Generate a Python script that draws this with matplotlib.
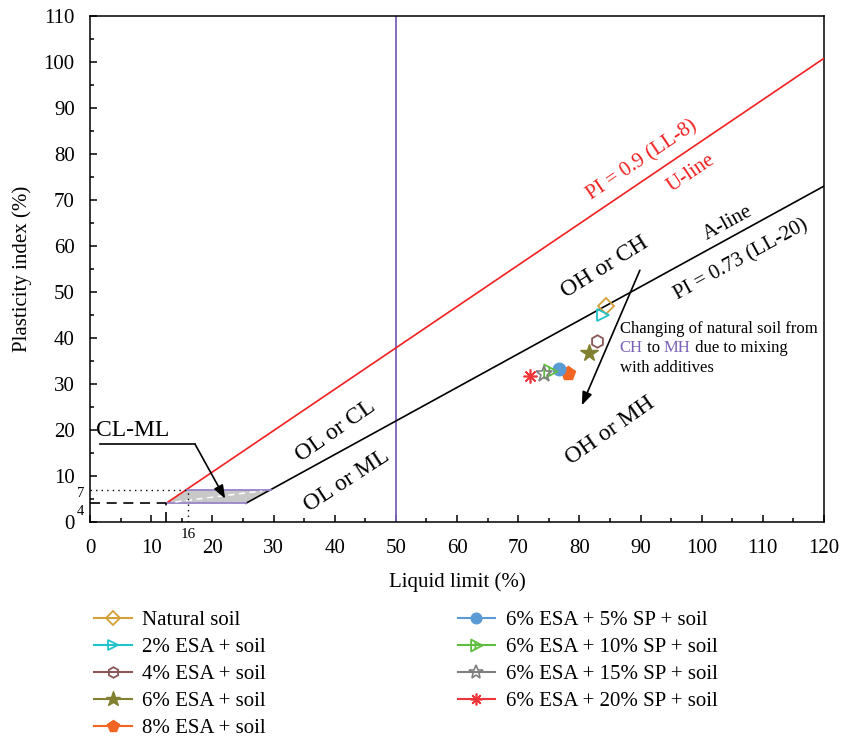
import numpy as np
import matplotlib
matplotlib.use("Agg")
import matplotlib.pyplot as plt
from matplotlib.path import Path
from matplotlib.ticker import MultipleLocator

plt.rcParams['font.family'] = ['Liberation Serif', 'DejaVu Serif']

# Soil samples: liquid limit (LL) and plasticity index (PI), in %
labels = ["Natural soil", "2% ESA + soil", "4% ESA + soil", "6% ESA + soil",
          "8% ESA + soil", "6% ESA + 5% SP + soil", "6% ESA + 10% SP + soil",
          "6% ESA + 15% SP + soil", "6% ESA + 20% SP + soil"]
liquid_limit = [84.4, 83.8, 82.9, 81.5, 78.2, 76.6, 75.2, 74.3, 71.9]
plasticity_index = [47.0, 44.9, 39.3, 36.8, 32.4, 33.3, 32.8, 32.2, 31.6]

# Chart boundaries
u_slope, u_offset = 0.9, 8      # U-line: PI = 0.9 (LL - 8)
a_slope, a_offset = 0.73, 20    # A-line: PI = 0.73 (LL - 20)
clml_low, clml_high = 4, 7      # CL-ML band
ll_divide = 50

# Marker for the 10% SP series: right triangle with an inner bar
tri_bar = Path([(-0.5, -0.55), (0.55, 0.0), (-0.5, 0.55), (-0.5, -0.55),
                (-0.1, -0.35), (-0.1, 0.35)],
               [Path.MOVETO, Path.LINETO, Path.LINETO, Path.CLOSEPOLY,
                Path.MOVETO, Path.LINETO])

styles = [
    dict(color="#D4A03A", marker="D", mfc="none", ms=8, mew=1.3),
    dict(color="#22C3C8", marker=">", mfc="none", ms=9, mew=1.3),
    dict(color="#8A5656", marker="h", mfc="none", ms=9, mew=1.3),
    dict(color="#808030", marker="*", mfc="#808030", ms=13, mew=1.0),
    dict(color="#F26522", marker="p", mfc="#F26522", ms=10, mew=1.0),
    dict(color="#5B9BD5", marker="o", mfc="#5B9BD5", ms=9, mew=1.0),
    dict(color="#5DBE3E", marker=tri_bar, mfc="none", ms=10, mew=1.3),
    dict(color="#7F7F7F", marker="*", mfc="none", ms=12, mew=1.2),
    dict(color="#F0353A", marker=(8, 2, 0), mfc="none", ms=10, mew=1.2),
]

fig = plt.figure(figsize=(8.41, 7.39), dpi=100)
ax = fig.add_axes([90 / 841, (739 - 521.7) / 739, 734 / 841, 505.7 / 739])
ax.set_xlim(0, 120)
ax.set_ylim(0, 110)

# U-line and A-line
ll_u_start = clml_low / u_slope + u_offset
ll_a_start = clml_low / a_slope + a_offset
ll_a_top = clml_high / a_slope + a_offset
ll_u_top = clml_high / u_slope + u_offset
xu = np.array([ll_u_start, 120])
ax.plot(xu, u_slope * (xu - u_offset), color="#F02020", lw=1.2, zorder=3)
xa = np.array([ll_a_start, 120])
ax.plot(xa, a_slope * (xa - a_offset), color="black", lw=1.2, zorder=3)

# LL = 50 divide
ax.axvline(ll_divide, color="#7A62B8", lw=1.3, zorder=2)

# CL-ML band
band_x = [ll_u_start, ll_a_start, ll_a_top, ll_u_top]
band_y = [clml_low, clml_low, clml_high, clml_high]
ax.fill(band_x, band_y, color="#C8C8C8", zorder=2, lw=0)
ax.plot([ll_u_start, ll_a_start], [clml_low, clml_low], color="#9A84C8", lw=1.3, zorder=3)
ax.plot([ll_u_top, ll_a_top], [clml_high, clml_high], color="#9A84C8", lw=1.3, zorder=3)
ax.plot([ll_u_start + 1.5, ll_a_top - 1.5], [clml_low + 0.3, clml_high - 0.3],
        color="white", lw=1.1, ls=(0, (4, 3)), zorder=3)

# Reference lines for PI = 4 and PI = 7
ax.plot([0, ll_u_start], [clml_low, clml_low], color="black", lw=1.2, ls=(0, (6, 4)), zorder=3)
ax.plot([ll_u_start, ll_u_start], [0, clml_low], color="black", lw=1.2, ls=(0, (6, 4)), zorder=3)
ax.plot([0, 16], [clml_high, clml_high], color="black", lw=1.0, ls=(0, (1, 3)), zorder=3)
ax.plot([16, 16], [0, clml_high], color="black", lw=1.0, ls=(0, (1, 3)), zorder=3)
ax.text(-1.5, 6.2, "7", ha="center", va="center", fontsize=10.5, clip_on=False)
ax.text(-1.5, 2.2, "4", ha="center", va="center", fontsize=10.5, clip_on=False)
ax.text(16, -1.4, "16", ha="center", va="top", fontsize=11, clip_on=False)

# Sample points
for lab, xv, yv, st in zip(labels, liquid_limit, plasticity_index, styles):
    st = dict(st)
    ms = st.pop("ms")
    ax.plot([xv], [yv], ls="none", ms=ms, label=lab, zorder=5, **st)

# Zone labels
def rot(slope_deg, x, y):
    return ax.transData.transform_angles(np.array([slope_deg]), np.array([[x, y]]))[0]

ang_u = np.degrees(np.arctan(u_slope))
ang_a = np.degrees(np.arctan(a_slope))
ax.text(90.2, 78.6, "PI = 0.9 (LL-8)", color="#F02020", fontsize=15,
        rotation=rot(ang_u, 90, 78), ha="center", va="center")
ax.text(98.3, 75.8, "U-line", color="#F02020", fontsize=15,
        rotation=rot(ang_u, 98, 75), ha="center", va="center")
ax.text(104.3, 65.0, "A-line", color="black", fontsize=15,
        rotation=rot(ang_a, 104, 65), ha="center", va="center")
ax.text(106.5, 56.9, "PI = 0.73 (LL-20)", color="black", fontsize=15,
        rotation=rot(ang_a, 106, 57), ha="center", va="center")
ax.text(84.2, 55.3, "OH or CH", fontsize=17, rotation=32, ha="center", va="center")
ax.text(40.1, 19.8, "OL or CL", fontsize=17, rotation=35, ha="center", va="center")
ax.text(42.0, 8.9, "OL or ML", fontsize=17, rotation=33, ha="center", va="center")
ax.text(85.0, 19.8, "OH or MH", fontsize=17, rotation=35, ha="center", va="center")
ax.text(7.0, 19.8, "CL-ML", fontsize=17, ha="center", va="center")

# CL-ML pointer
ax.plot([1.6, 17.2], [16.8, 16.8], color="black", lw=1.2, zorder=4)
ax.annotate("", xy=(22.1, 5.0), xytext=(17.2, 16.8),
            arrowprops=dict(arrowstyle="-|>,head_length=0.8,head_width=0.3",
                            color="black", lw=1.2, shrinkA=0, shrinkB=0), zorder=4)

# Change arrow
ax.annotate("", xy=(80.4, 25.3), xytext=(89.9, 54.7),
            arrowprops=dict(arrowstyle="-|>,head_length=0.8,head_width=0.3",
                            color="black", lw=1.2, shrinkA=0, shrinkB=0), zorder=4)

purple = "#7A62B8"
fs_note = 12
tx, ty = 86.6, 42.0
ax.text(tx, ty, "Changing of natural soil from", fontsize=fs_note, ha="left", va="center")
t1 = ax.text(tx, ty - 4.3, "CH", color=purple, fontsize=fs_note, ha="left", va="center")
t2 = ax.annotate(" to ", xy=(1, 0.5), xycoords=t1, fontsize=fs_note, ha="left", va="center")
t3 = ax.annotate("MH", xy=(1, 0.5), xycoords=t2, fontsize=fs_note, ha="left", va="center",
                 color=purple)
ax.annotate(" due to mixing", xy=(1, 0.5), xycoords=t3, fontsize=fs_note, ha="left", va="center")
ax.text(tx, ty - 8.6, "with additives", fontsize=fs_note, ha="left", va="center")

# Axes styling
ax.xaxis.set_major_locator(MultipleLocator(10))
ax.xaxis.set_minor_locator(MultipleLocator(5))
ax.yaxis.set_major_locator(MultipleLocator(10))
ax.yaxis.set_minor_locator(MultipleLocator(5))
ax.tick_params(which="both", direction="in", top=False, right=False, labelsize=15, width=1.1)
ax.tick_params(which="major", length=5)
ax.tick_params(which="minor", length=3)
ax.tick_params(axis="x", pad=12.5)
ax.tick_params(axis="y", pad=11)
for s in ax.spines.values():
    s.set_linewidth(1.1)
ax.set_xlabel("Liquid limit (%)", fontsize=15, labelpad=10)
ax.set_ylabel("Plasticity index (%)", fontsize=15, labelpad=8)

# Legend handles with lines
leg_handles = []
for lab, st in zip(labels, styles):
    st = dict(st)
    ms = st.pop("ms")
    h, = ax.plot([], [], ls="-", lw=1.5, ms=ms * 0.85, label=lab, **st)
    leg_handles.append(h)
fig.legend(handles=leg_handles, labels=labels, loc="upper left",
           bbox_to_anchor=(86 / 841, 1 - 602 / 739), ncol=2, frameon=False,
           fontsize=15, handlelength=1.8, handletextpad=0.5, labelspacing=0.36,
           columnspacing=9.2, borderaxespad=0)

fig.savefig("out.png", dpi=100)
